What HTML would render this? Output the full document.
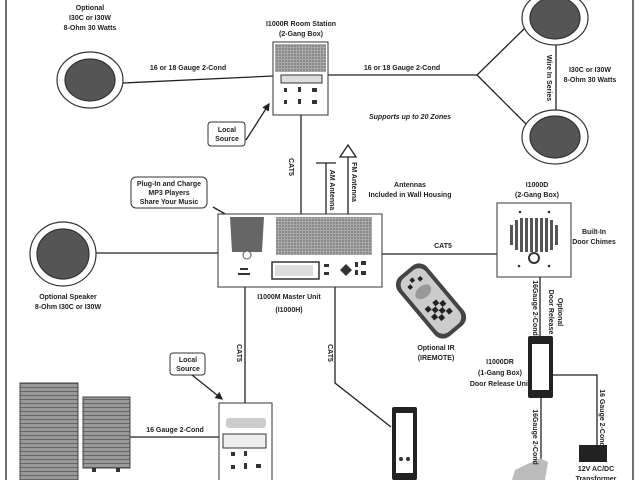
<!DOCTYPE html>
<html><head><meta charset="utf-8"><style>
html,body{margin:0;padding:0;background:#fff}
svg{display:block}
text{font-family:"Liberation Sans",sans-serif;font-size:7px;fill:#222;font-weight:bold}
</style></head><body>
<svg width="640" height="480" viewBox="0 0 640 480" xmlns="http://www.w3.org/2000/svg">
<defs>
<pattern id="grill" width="3" height="3" patternUnits="userSpaceOnUse"><rect width="3" height="3" fill="#aaa"/><rect width="2" height="2" fill="#888"/></pattern>
<pattern id="cab" width="4" height="4" patternUnits="userSpaceOnUse"><rect width="4" height="4" fill="#999"/><rect y="3" width="4" height="1" fill="#666"/></pattern>
<marker id="ar" markerWidth="6" markerHeight="6" refX="5" refY="3" orient="auto"><path d="M0,0 L6,3 L0,6z" fill="#222"/></marker>
</defs>
<g stroke="#222" stroke-width="1.3" fill="none">
<line x1="6" y1="0" x2="6" y2="480"/><line x1="633" y1="0" x2="633" y2="480"/>
<line x1="123" y1="83" x2="273" y2="76"/>
<line x1="328" y1="75" x2="477" y2="75"/>
<polyline points="525,28 477,75 527,125"/>
<line x1="556" y1="45" x2="556" y2="110"/>
<line x1="301" y1="115" x2="301" y2="214"/>
<line x1="326" y1="163" x2="326" y2="214"/><line x1="316" y1="163" x2="336" y2="163"/>
<line x1="348" y1="157" x2="348" y2="214"/><polygon points="348,145 340,157 356,157"/>
<line x1="96" y1="253" x2="218" y2="253"/>
<line x1="382" y1="254" x2="497" y2="254"/>
<line x1="540" y1="277" x2="540" y2="336"/>
<polyline points="553,375 597,375 597,445"/>
<line x1="541" y1="398" x2="541" y2="470"/>
<line x1="245" y1="287" x2="245" y2="403"/>
<polyline points="335,287 335,383 391,427"/>
<line x1="130" y1="437" x2="219" y2="437"/>
<line x1="246" y1="140" x2="269" y2="104" marker-end="url(#ar)"/>
<line x1="213" y1="207" x2="239" y2="222" marker-end="url(#ar)"/>
<line x1="192" y1="375" x2="222" y2="399" marker-end="url(#ar)"/>
</g>
<g stroke="#333" stroke-width="1.2">
<ellipse cx="90" cy="80" rx="33" ry="28" fill="#fff"/><ellipse cx="90" cy="80" rx="25" ry="21" fill="#555"/>
<ellipse cx="555" cy="18" rx="33" ry="27" fill="#fff"/><ellipse cx="555" cy="18" rx="25" ry="21" fill="#555"/>
<ellipse cx="555" cy="137" rx="33" ry="27" fill="#fff"/><ellipse cx="555" cy="137" rx="25" ry="21" fill="#555"/>
<ellipse cx="63" cy="254" rx="33" ry="32" fill="#fff"/><ellipse cx="63" cy="254" rx="26" ry="25" fill="#555"/>
</g>
<rect x="273" y="42" width="55" height="73" fill="#fff" stroke="#333"/>
<rect x="275" y="44" width="51" height="28" fill="url(#grill)"/>
<rect x="281" y="75" width="41" height="8" fill="#ddd" stroke="#333"/>
<g fill="#333"><rect x="284" y="88" width="3" height="4"/><rect x="298" y="87" width="3" height="5"/><rect x="312" y="88" width="5" height="4"/><rect x="284" y="100" width="3" height="4"/><rect x="298" y="99" width="3" height="5"/><rect x="312" y="100" width="5" height="4"/></g>
<rect x="208" y="122" width="37" height="24" rx="3" fill="#fff" stroke="#333"/>
<text x="227" y="132" text-anchor="middle">Local</text><text x="227" y="141" text-anchor="middle">Source</text>
<rect x="131" y="177" width="76" height="31" rx="5" fill="#fff" stroke="#333"/>
<text x="169" y="186" text-anchor="middle">Plug-In and Charge</text><text x="169" y="195" text-anchor="middle">MP3 Players</text><text x="169" y="204" text-anchor="middle">Share Your Music</text>
<rect x="170" y="353" width="35" height="22" rx="3" fill="#fff" stroke="#333"/>
<text x="188" y="362" text-anchor="middle">Local</text><text x="188" y="371" text-anchor="middle">Source</text>
<rect x="218" y="214" width="164" height="73" fill="#fff" stroke="#333"/>
<polygon points="230,217 264,217 262,252 232,252" fill="#666"/>
<circle cx="247" cy="255" r="4" fill="#fff" stroke="#555"/>
<rect x="276" y="217" width="96" height="38" fill="url(#grill)"/>
<rect x="272" y="262" width="47" height="17" fill="#fff" stroke="#333" stroke-width="1.5"/><rect x="275" y="265" width="38" height="11" fill="#ddd"/>
<g fill="#333"><rect x="240" y="268" width="8" height="2"/><rect x="238" y="273" width="12" height="2"/>
<rect x="324" y="264" width="5" height="3"/><rect x="324" y="272" width="5" height="3"/><polygon points="340,270 346,264 352,270 346,276"/><rect x="355" y="262" width="3" height="5"/><rect x="361" y="261" width="5" height="4"/><rect x="361" y="271" width="5" height="4"/><rect x="355" y="270" width="3" height="5"/></g>
<rect x="497" y="203" width="74" height="74" fill="#fff" stroke="#333"/>
<g fill="#555"><rect x="510" y="225" width="3" height="20"/><rect x="515" y="220" width="3" height="30"/><rect x="520" y="218" width="3" height="34"/><rect x="525" y="218" width="3" height="34"/><rect x="530" y="218" width="3" height="34"/><rect x="535" y="218" width="3" height="34"/><rect x="540" y="218" width="3" height="34"/><rect x="545" y="218" width="3" height="34"/><rect x="550" y="220" width="3" height="30"/><rect x="555" y="225" width="3" height="20"/></g>
<circle cx="534" cy="258" r="5" fill="#fff" stroke="#333" stroke-width="2"/>
<g fill="#333"><circle cx="520" cy="212" r="1.3"/><circle cx="549" cy="212" r="1.3"/><circle cx="519" cy="266" r="1.3"/><circle cx="549" cy="266" r="1.3"/></g>
<rect x="528" y="336" width="25" height="62" rx="2" fill="#222"/><rect x="532" y="344" width="17" height="46" fill="#fff"/>
<rect x="579" y="445" width="28" height="17" fill="#222"/>
<polygon points="515,470 540,458 548,462 545,480 512,480" fill="#bbb"/>
<g transform="translate(431,301) rotate(-40)"><rect x="-19" y="-39" width="38" height="78" rx="11" fill="#444"/><rect x="-15" y="-35" width="30" height="70" rx="9" fill="#ccc"/><g fill="#222"><rect x="-10" y="2" width="5" height="5"/><rect x="0" y="2" width="5" height="5"/><rect x="-5" y="7" width="5" height="5"/><rect x="5" y="7" width="5" height="5"/><rect x="-10" y="12" width="5" height="5"/><rect x="0" y="12" width="5" height="5"/><rect x="-5" y="17" width="5" height="5"/><rect x="5" y="17" width="5" height="5"/><rect x="-9" y="-26" width="4" height="4"/><rect x="4" y="-26" width="4" height="4"/><rect x="-3" y="-30" width="4" height="4"/></g><ellipse cx="0" cy="-12" rx="9" ry="6" fill="#999"/></g>
<rect x="392" y="407" width="25" height="73" rx="2" fill="#222"/><rect x="396" y="413" width="17" height="60" fill="#fff"/>
<circle cx="401" cy="459" r="2" fill="#333"/><circle cx="408" cy="459" r="2" fill="#333"/>
<rect x="219" y="403" width="53" height="80" fill="#fff" stroke="#333"/>
<rect x="226" y="418" width="40" height="10" rx="3" fill="#ccc"/>
<rect x="223" y="434" width="43" height="14" fill="#eee" stroke="#333"/>
<g fill="#333"><rect x="231" y="452" width="4" height="4"/><rect x="244" y="451" width="3" height="5"/><rect x="231" y="465" width="4" height="4"/><rect x="244" y="463" width="3" height="6"/><rect x="256" y="464" width="5" height="4"/></g>
<rect x="20" y="383" width="58" height="100" fill="url(#cab)" stroke="#444"/>
<rect x="83" y="397" width="47" height="71" fill="url(#cab)" stroke="#444"/>
<rect x="92" y="468" width="4" height="4" fill="#333"/><rect x="116" y="468" width="4" height="4" fill="#333"/>
<g text-anchor="middle">
<text x="90" y="10">Optional</text><text x="90" y="20">I30C or I30W</text><text x="90" y="30">8-Ohm 30 Watts</text>
<text x="301" y="26">I1000R Room Station</text><text x="301" y="36">(2-Gang Box)</text>
<text x="188" y="70">16 or 18 Gauge 2-Cond</text><text x="402" y="70">16 or 18 Gauge 2-Cond</text>
<text x="590" y="72">I30C or I30W</text><text x="590" y="82">8-Ohm 30 Watts</text>
<text x="410" y="119" font-style="italic">Supports up to 20 Zones</text>
<text x="410" y="187">Antennas</text><text x="410" y="197" font-weight="normal">Included in Wall Housing</text>
<text x="537" y="187">I1000D</text><text x="537" y="197">(2-Gang Box)</text>
<text x="594" y="234">Built-In</text><text x="594" y="244">Door Chimes</text>
<text x="443" y="248">CAT5</text>
<text x="289" y="299">I1000M Master Unit</text><text x="289" y="312">(I1000H)</text>
<text x="68" y="299">Optional Speaker</text><text x="68" y="309">8-Ohm I30C or I30W</text>
<text x="436" y="350">Optional IR</text><text x="436" y="360">(IREMOTE)</text>
<text x="500" y="364">I1000DR</text><text x="500" y="375">(1-Gang Box)</text><text x="500" y="386">Door Release Unit</text>
<text x="175" y="432">16 Gauge 2-Cond</text>
<text x="596" y="471">12V AC/DC</text><text x="596" y="481">Transformer</text>
<text x="405" y="481">AUX/IP</text>
<text transform="translate(547,78) rotate(90)">Wire In Series</text>
<text transform="translate(289,167) rotate(90)">CAT5</text>
<text transform="translate(330,190) rotate(90)">AM Antenna</text>
<text transform="translate(352,182) rotate(90)">FM Antenna</text>
<text transform="translate(533,308) rotate(90)">16Gauge 2-Cond</text>
<text transform="translate(558,312) rotate(90)">Optional</text>
<text transform="translate(549,312) rotate(90)">Door Release</text>
<text transform="translate(600,418) rotate(90)">16 Gauge 2-Cond</text>
<text transform="translate(533,437) rotate(90)">16Gauge 2-Cond</text>
<text transform="translate(237,353) rotate(90)">CAT5</text>
<text transform="translate(328,353) rotate(90)">CAT5</text>
</g>
</svg>
</body></html>
